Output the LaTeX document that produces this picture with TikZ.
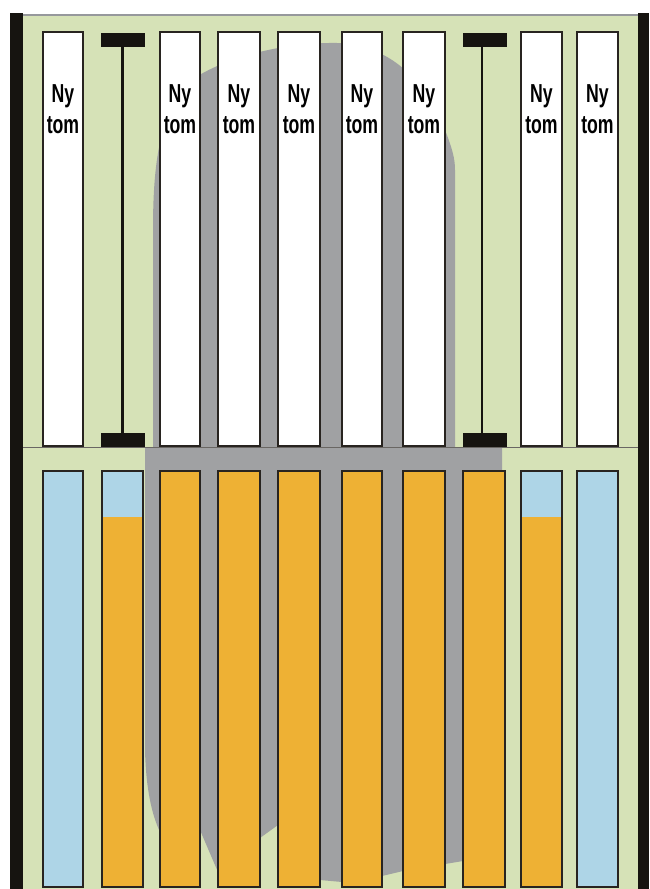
\documentclass[tikz,border=0pt]{standalone}
\usepackage{fontspec}
\setmainfont{Liberation Sans}
\definecolor{bggreen}{RGB}{214,226,183}
\definecolor{blobgray}{RGB}{160,161,163}
\definecolor{tankorange}{RGB}{238,177,52}
\definecolor{tankblue}{RGB}{174,213,231}
\definecolor{outline}{RGB}{40,36,32}
\definecolor{barblack}{RGB}{22,20,16}
\definecolor{topline}{RGB}{150,152,156}
\begin{document}
\begin{tikzpicture}[x=1pt,y=-1pt,
  emptybox/.style={draw=outline,line width=2.6pt,fill=white,inner sep=0pt,minimum height=414pt},
  fullbox/.style={draw=outline,line width=2.6pt,fill=tankorange,inner sep=0pt,minimum height=416pt},
  bluebox/.style={draw=outline,line width=2.6pt,fill=tankblue,inner sep=0pt,minimum height=416pt},
  splitbox/.style={draw=outline,line width=2.6pt,fill=tankorange,inner sep=0pt,minimum height=416pt,
    path picture={\fill[tankblue] (path picture bounding box.north west) rectangle ([yshift=-46pt]path picture bounding box.north east);}},
  tbar/.style={fill=barblack,inner sep=0pt,minimum width=44pt,minimum height=14pt},
  stem/.style={draw=barblack,line width=2.6pt},
  lbl/.style={font=\bfseries\fontsize{26}{30}\selectfont,inner sep=0pt,anchor=base,text=black},
  blackbar/.style={fill=barblack}]
\useasboundingbox (0,0) rectangle (649,889);
% background
\fill[white] (0,0) rectangle (649,889);
\fill[bggreen] (23,15) rectangle (638,889);
\draw[topline,line width=2pt] (23,14.5) -- (638,14.5);
% gray blob
\fill[blobgray] (153,447) -- (153,230)
  .. controls (153,170) and (158,120) .. (185,85)
  .. controls (215,60) and (280,42) .. (337,43)
  .. controls (390,45) and (425,80) .. (445,130)
  .. controls (452,148) and (455,158) .. (455,170)
  -- (455,447) -- (502,447) -- (502,858)
  -- (463,861) -- (445,864) -- (403,871) -- (382,876) -- (342,882) -- (320,880)
  -- (278,825) -- (260,838) -- (218,872) -- (200,830) -- (160,832)
  .. controls (152,815) and (146,790) .. (145,750)
  -- (145,447) -- cycle;
% thin divider line
\draw[outline!70,line width=0.6pt] (23,447.5) -- (638,447.5);
% top row
\node[emptybox,minimum width=40pt] (t1) at (63,239) {};
\node[emptybox,minimum width=40pt] (t3) at (180,239) {};
\node[emptybox,minimum width=42pt] (t4) at (239,239) {};
\node[emptybox,minimum width=42pt] (t5) at (299,239) {};
\node[emptybox,minimum width=40pt] (t6) at (362,239) {};
\node[emptybox,minimum width=42pt] (t7) at (424,239) {};
\node[emptybox,minimum width=41pt] (t9) at (541.5,239) {};
\node[emptybox,minimum width=41pt] (t10) at (597.5,239) {};
% T supports
\node[tbar] (a2) at (122.5,40) {};
\node[tbar] (b2) at (122.5,440) {};
\draw[stem] (a2.south) -- (b2.north);
\node[tbar] (a8) at (485,40) {};
\node[tbar] (b8) at (485,440) {};
\draw[stem] ([xshift=-3pt]a8.south) -- ([xshift=-3pt]b8.north);
% labels
\foreach \n/\cx in {1/63,3/180,4/239,5/299,6/362,7/424,9/541.5,10/597.5}{
  \node[lbl] (ny\n) at (\cx,102) {\scalebox{0.68}[1]{Ny}};
  \node[lbl] (tom\n) at (\cx,133) {\scalebox{0.68}[1]{tom}};
}
% bottom row
\node[bluebox,minimum width=40pt] (u1) at (63,679) {};
\node[splitbox,minimum width=41pt] (u2) at (122.5,679) {};
\node[fullbox,minimum width=40pt] (u3) at (180,679) {};
\node[fullbox,minimum width=42pt] (u4) at (239,679) {};
\node[fullbox,minimum width=42pt] (u5) at (299,679) {};
\node[fullbox,minimum width=40pt] (u6) at (362,679) {};
\node[fullbox,minimum width=42pt] (u7) at (424,679) {};
\node[fullbox,minimum width=42pt] (u8) at (484,679) {};
\node[splitbox,minimum width=41pt] (u9) at (541.5,679) {};
\node[bluebox,minimum width=41pt] (u10) at (597.5,679) {};
% side bars
\fill[blackbar] (10,13) rectangle (23,889);
\fill[blackbar] (638,13) rectangle (649,889);
\end{tikzpicture}
\end{document}
